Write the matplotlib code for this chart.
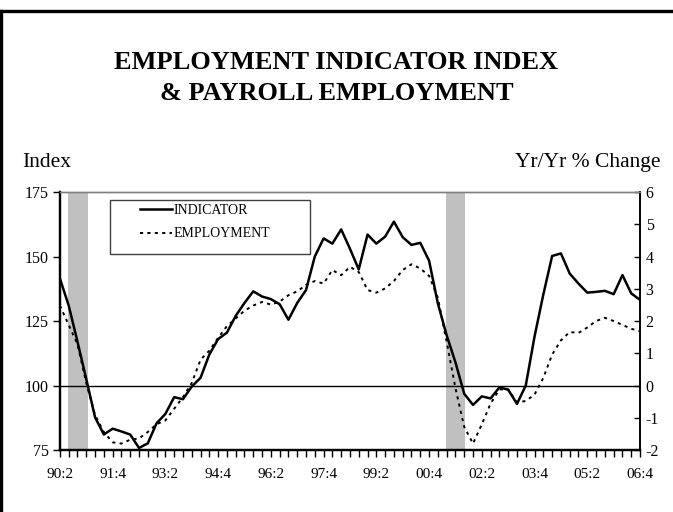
import numpy as np
import matplotlib
matplotlib.use('Agg')
import matplotlib.pyplot as plt
from matplotlib.lines import Line2D
from matplotlib.patches import Rectangle

plt.rcParams['font.family'] = ['Liberation Serif', 'DejaVu Serif']
plt.rcParams['axes.unicode_minus'] = False

# quarterly data, 90:2 .. 06:4 (67 quarters)
indicator = [141.5, 131, 117, 102.5, 87.7, 81, 83.3, 82.2, 81, 75.8,
             77.6, 85.4, 89, 95.5, 94.7, 99.6, 103, 112, 118, 120.5,
             127, 132, 136.5, 134.5, 133.5, 131.5, 125.5, 132, 137, 150,
             157, 155, 160.5, 153, 145, 158.5, 155, 157.7, 163.5, 157.5,
             154.5, 155.3, 148.4, 131.8, 119.5, 109, 96.8, 92.5, 95.8, 95,
             99.3, 98.4, 92.9, 100, 119, 135.3, 150.2, 151.2, 143.4, 139.5,
             136, 136.3, 136.7, 135.4, 142.8, 135.7, 133.2]

# payroll employment, yr/yr % change
employment = [2.48, 1.88, 1.28, 0.08, -0.92, -1.44, -1.76, -1.80, -1.68, -1.64,
              -1.44, -1.20, -1.08, -0.72, -0.36, 0.08, 0.80, 1.08, 1.48, 1.84,
              2.08, 2.32, 2.48, 2.59, 2.51, 2.60, 2.80, 2.92, 3.12, 3.24,
              3.16, 3.58, 3.42, 3.68, 3.52, 2.96, 2.88, 3.01, 3.24, 3.58,
              3.76, 3.63, 3.40, 2.72, 1.36, -0.08, -1.28, -1.80, -1.20, -0.56,
              -0.12, -0.12, -0.52, -0.48, -0.28, 0.24, 0.96, 1.40, 1.66, 1.63,
              1.80, 2.00, 2.10, 2.00, 1.88, 1.76, 1.68]

xtick_labels = ['90:2', '91:4', '93:2', '94:4', '96:2', '97:4',
                '99:2', '00:4', '02:2', '03:4', '05:2', '06:4']

# recessions, in quarter index units
recessions = [(0.95, 3.15), (43.9, 46.05)]

x = np.arange(len(indicator))

fig = plt.figure(figsize=(6.73, 5.12), dpi=100)
ax = fig.add_axes([0.089, 0.121, 0.862, 0.504])
ax2 = ax.twinx()

for a, b in recessions:
    ax.axvspan(a, b, color='#c0c0c0', lw=0, zorder=0)

ax.axhline(100, color='black', lw=1.0, zorder=1)
l1, = ax.plot(x, indicator, color='black', lw=1.8, zorder=3)
l2, = ax2.plot(x, employment, color='black', lw=1.4, ls=(0, (1.6, 2.2)), zorder=3)

ax.set_xlim(0, len(indicator) - 1)
ax.set_ylim(75, 175)
ax.set_yticks([75, 100, 125, 150, 175])
ax2.set_ylim(-2, 6)
ax2.set_yticks(range(-2, 7))

ax.set_xticks(x, minor=True)
ax.set_xticks(x[::6])
ax.set_xticklabels(xtick_labels)
ax.tick_params(axis='x', which='both', direction='out', length=5, width=1, pad=8, labelsize=11)
ax.tick_params(axis='y', direction='out', length=5, width=1, labelsize=11.5, pad=3)
ax2.tick_params(axis='y', direction='in', length=4, width=1, labelsize=11.5, pad=4)

for a in (ax, ax2):
    a.spines['left'].set_linewidth(1.6)
    a.spines['bottom'].set_linewidth(1.6)
    a.spines['right'].set_linewidth(1.2)
    a.spines['top'].set_color('#808080')
    a.spines['top'].set_linewidth(1.0)

# legend with its own frame
ax.add_patch(Rectangle((0.086, 0.76), 0.345, 0.208, transform=ax.transAxes,
                       fill=False, edgecolor='#404040', lw=1.0, zorder=5))
ax.legend([l1, l2], ['INDICATOR', 'EMPLOYMENT'], loc='upper left',
          bbox_to_anchor=(0.128, 0.975), frameon=False, fontsize=10,
          handlelength=2.3, handletextpad=0.15, labelspacing=0.75,
          borderaxespad=0, borderpad=0.4)

fig.text(0.5, 0.877, 'EMPLOYMENT INDICATOR INDEX', ha='center', va='center',
         fontsize=19, fontweight='bold')
fig.text(0.5, 0.818, '& PAYROLL EMPLOYMENT', ha='center', va='center',
         fontsize=19, fontweight='bold')
fig.text(0.033, 0.683, 'Index', ha='left', va='center', fontsize=15.5)
fig.text(0.981, 0.683, 'Yr/Yr % Change', ha='right', va='center', fontsize=15.5)

# chart border (partially cropped in the original)
fig.add_artist(Line2D([0, 1], [0.978, 0.978], transform=fig.transFigure, color='black', lw=2.4))
fig.add_artist(Line2D([0.002, 0.002], [0, 0.978], transform=fig.transFigure, color='black', lw=2.4))

fig.savefig('out.png', dpi=100)
